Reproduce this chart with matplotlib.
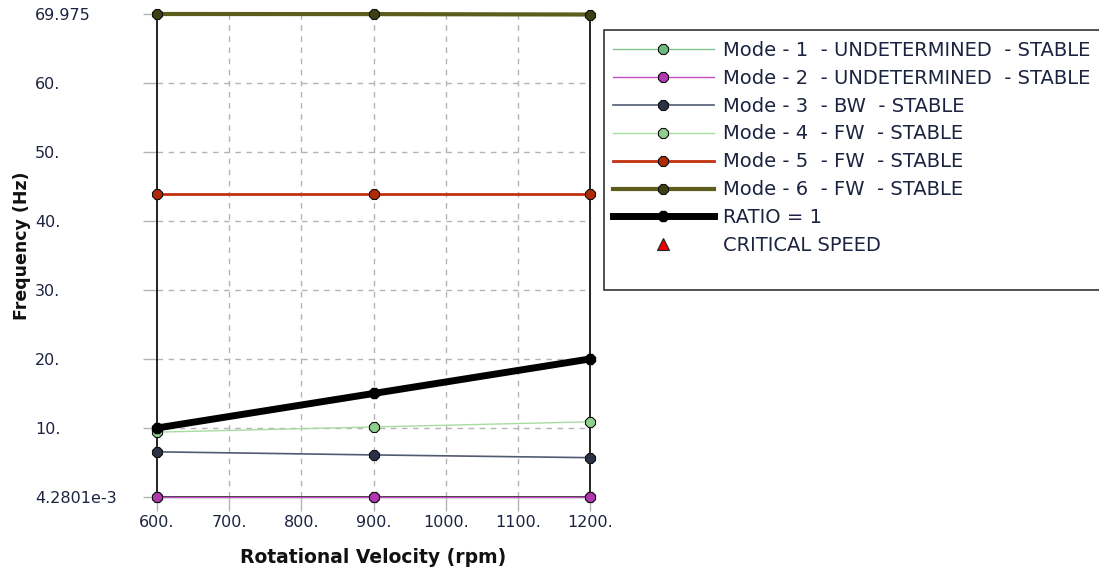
import matplotlib
matplotlib.use("Agg")
import matplotlib.pyplot as plt
from matplotlib.lines import Line2D
from matplotlib.patches import Rectangle

plt.rcParams['font.family'] = ['DejaVu Sans']

# Campbell diagram data
speed_rpm = [600, 900, 1200]
mode1 = [0.0042801, 0.0042801, 0.0042801]
mode2 = [0.0042801, 0.0042801, 0.0042801]
mode3 = [6.55, 6.1, 5.7]
mode4 = [9.4, 10.15, 10.9]
mode5 = [43.9, 43.9, 43.9]
mode6 = [69.975, 69.96, 69.9]
ratio1 = [10.0, 15.0, 20.0]

mode_labels = [
    "Mode - 1  - UNDETERMINED  - STABLE",
    "Mode - 2  - UNDETERMINED  - STABLE",
    "Mode - 3  - BW  - STABLE",
    "Mode - 4  - FW  - STABLE",
    "Mode - 5  - FW  - STABLE",
    "Mode - 6  - FW  - STABLE",
    "RATIO = 1",
    "CRITICAL SPEED",
]

x_ticks = [600, 700, 800, 900, 1000, 1100, 1200]
x_tick_labels = ["600.", "700.", "800.", "900.", "1000.", "1100.", "1200."]
y_ticks = [0.0042801, 10, 20, 30, 40, 50, 60, 69.975]
y_tick_labels = ["4.2801e-3", "10.", "20.", "30.", "40.", "50.", "60.", "69.975"]

text_color = "#1c2340"

fig = plt.figure(figsize=(10.99, 5.75), dpi=100)
ax = fig.add_axes([157 / 1099, 1 - 497 / 575, 433 / 1099, 483 / 575])

styles = [
    dict(color="#7cc48c", lw=1.0, mfc="#6dbb7e"),
    dict(color="#c44fc4", lw=1.0, mfc="#b238b2"),
    dict(color="#525a72", lw=1.2, mfc="#2a3245"),
    dict(color="#a6dca0", lw=1.0, mfc="#8fd08c"),
    dict(color="#c0300f", lw=2.0, mfc="#b02a08"),
    dict(color="#5c5c1c", lw=3.0, mfc="#3f3f14"),
]
series = [mode1, mode2, mode3, mode4, mode5, mode6]
handles = []
for vals, st in zip(series, styles):
    h, = ax.plot(speed_rpm, vals, color=st["color"], lw=st["lw"], marker="8",
                 markersize=7.5, markerfacecolor=st["mfc"], markeredgecolor="#111111",
                 markeredgewidth=0.8, clip_on=False, zorder=3)
    handles.append(h)

h, = ax.plot(speed_rpm, ratio1, color="black", lw=5, marker="8", markersize=8.5,
             markerfacecolor="black", markeredgecolor="black", clip_on=False, zorder=4)
handles.append(h)
handles.append(Line2D([], [], linestyle="none", marker="^", markersize=9,
                      markerfacecolor="#ee0000", markeredgecolor="#222222",
                      markeredgewidth=0.8))

ax.set_xlim(600, 1200)
ax.set_ylim(0.0042801, 69.975)
ax.set_xticks(x_ticks)
ax.set_xticklabels(x_tick_labels)
ax.set_yticks(y_ticks)
ax.set_yticklabels(y_tick_labels)

# dashed grid on interior ticks only
for xv in x_ticks[1:-1]:
    ax.axvline(xv, color="#b4b4b4", lw=1, ls=(0, (4, 4)), zorder=1)
for yv in y_ticks[1:-1]:
    ax.axhline(yv, color="#b4b4b4", lw=1, ls=(0, (4, 4)), zorder=1)

ax.tick_params(axis="both", colors="#b4b4b4", labelcolor=text_color,
               labelsize=11.5, length=10, width=1)
ax.tick_params(axis="x", pad=3)
ax.tick_params(axis="y", pad=78)
for lab in ax.get_yticklabels():
    lab.set_horizontalalignment("left")

for side in ["left", "right", "bottom"]:
    ax.spines[side].set_color("#111111")
    ax.spines[side].set_linewidth(1.3)
ax.spines["top"].set_visible(False)

ax.set_xlabel("Rotational Velocity (rpm)", fontsize=13.5, fontweight="bold",
              color="#111111")
ax.set_ylabel("Frequency (Hz)", fontsize=12.5, fontweight="bold", color="#111111")
ax.xaxis.set_label_coords(0.5, -0.106)
ax.yaxis.set_label_coords(-0.29, 0.52)

# legend panel
fig.patches.append(Rectangle((604 / 1099, 1 - 290 / 575), 0.6, 260 / 575,
                             transform=fig.transFigure, facecolor="white",
                             edgecolor="#333333", lw=1.2, zorder=0))
leg = fig.legend(handles, mode_labels, loc="upper left",
                 bbox_to_anchor=(599 / 1099, 1 - 27 / 575), frameon=False,
                 fontsize=14, handlelength=5.2, handletextpad=0.5,
                 labelspacing=0.46, borderpad=0.2, numpoints=1)
for t in leg.get_texts():
    t.set_color(text_color)

fig.savefig("out.png", dpi=100)
